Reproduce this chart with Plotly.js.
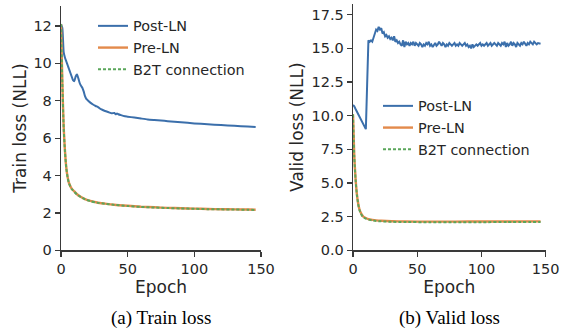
<!DOCTYPE html>
<html>
<head>
<meta charset="utf-8">
<script src="https://cdn.plot.ly/plotly-3.0.1.min.js"></script>
<style>html,body{margin:0;padding:0;background:#fff;}#chart{width:567px;height:331px;}</style>
</head>
<body>
<div id="chart"></div>
<script>
// ---------- Data ----------
// (a) Train loss
const trainPostEpochs = [0,1,2,3,4,5,6,7,8,9,10,11,12,13,14,15,16,17,18,19,20,21,22,24,26,28,30,33,36,38,40,41,42,43,45,48,50,55,60,65,70,75,80,90,100,110,120,130,140,146];
const trainPost = [12.1,11.9,10.6,10.3,10.1,9.9,9.7,9.5,9.3,9.1,9.05,9.3,9.4,9.2,8.95,8.8,8.7,8.5,8.25,8.1,8.03,7.96,7.9,7.8,7.72,7.65,7.55,7.45,7.38,7.33,7.35,7.28,7.32,7.28,7.23,7.17,7.15,7.1,7.05,7.0,6.97,6.94,6.91,6.85,6.79,6.74,6.7,6.66,6.62,6.6];
const trainPreEpochs = [0,1,2,3,4,5,6,8,10,12,15,18,22,27,33,40,50,60,70,80,90,100,110,120,130,140,146];
const trainPre = [12.1,9.0,6.6,5.3,4.4,3.9,3.6,3.3,3.15,3.0,2.85,2.74,2.64,2.56,2.5,2.44,2.38,2.33,2.3,2.27,2.25,2.23,2.21,2.2,2.19,2.18,2.17];
const trainB2T = [12.1,8.95,6.55,5.25,4.38,3.88,3.58,3.28,3.13,2.99,2.84,2.73,2.63,2.55,2.49,2.43,2.37,2.32,2.29,2.26,2.24,2.22,2.2,2.19,2.18,2.17,2.16];

// (b) Valid loss
const validPost = [10.8,10.7,10.5,10.3,10.1,9.9,9.7,9.5,9.3,9.1,9.0,12.3,15.6,15.5,15.6,15.5,15.8,16.1,16.4,16.3,16.6,16.4,16.5,16.1,16.2,15.9,16.0,15.8,
15.9,15.7,15.8,15.6,15.9,15.5,15.6,15.4,15.5,15.3,15.2,15.6,15.1,15.5,15.3,15.4,15.2,15.4,15.3,15.5,15.2,15.4,
15.3,15.2,15.4,15.3,15.1,15.3,15.2,15.4,15.3,15.5,15.2,15.3,15.1,15.3,15.4,15.2,15.3,15.5,15.3,15.2,
15.4,15.3,15.1,15.3,15.2,15.4,15.3,15.2,15.3,15.4,15.2,15.3,15.2,15.4,15.3,15.2,15.3,15.4,15.2,15.3,
15.1,15.2,15.0,15.3,15.1,15.2,15.3,15.2,15.3,15.4,15.2,15.3,15.2,15.3,15.4,15.2,15.3,15.4,15.2,15.3,
15.4,15.3,15.2,15.4,15.3,15.2,15.4,15.3,15.5,15.1,15.4,15.2,15.3,15.5,15.2,15.4,15.3,15.1,15.4,15.3,
15.2,15.4,15.3,15.5,15.3,15.2,15.4,15.3,15.5,15.4,15.3,15.5,15.4,15.3,15.4,15.4,15.35];
const validPreEpochs = [0,1,2,3,4,5,6,7,8,10,12,15,18,22,30,40,60,80,100,120,146];
const validPre = [10.1,7.0,5.3,4.2,3.5,3.05,2.8,2.62,2.5,2.4,2.32,2.26,2.22,2.19,2.16,2.14,2.13,2.13,2.14,2.14,2.15];
const validB2T = [10.1,6.95,5.25,4.15,3.45,3.0,2.76,2.58,2.46,2.36,2.28,2.22,2.18,2.15,2.12,2.1,2.09,2.09,2.09,2.1,2.1];

const seriesNames = ['Post-LN','Pre-LN','B2T connection'];
const xTicks = [0,50,100,150];
const trainYTicks = [0,2,4,6,8,10,12];
const validYTicks = [0,2.5,5,7.5,10,12.5,15,17.5];
const captions = ['(a) Train loss','(b) Valid loss'];

// ---------- Styling ----------
const BLUE = '#3b6fab', ORANGE = '#e38a4b', GREEN = '#5aa65a';
const sans = 'DejaVu Sans';
const txt = '#262626';

const traces = [
  {x: trainPostEpochs, y: trainPost, name: seriesNames[0], mode:'lines', line:{color:BLUE, width:2, shape:'spline', smoothing:0.5}, xaxis:'x', yaxis:'y', legend:'legend', legendgroup:'a1'},
  {x: trainPreEpochs, y: trainPre, name: seriesNames[1], mode:'lines', line:{color:ORANGE, width:2.4, shape:'spline', smoothing:0.6}, xaxis:'x', yaxis:'y', legend:'legend', legendgroup:'a2'},
  {x: trainPreEpochs, y: trainB2T, name: seriesNames[2], mode:'lines', line:{color:GREEN, width:2, dash:'3px,2px', shape:'spline', smoothing:0.6}, xaxis:'x', yaxis:'y', legend:'legend', legendgroup:'a3'},
  {x0: 0, dx: 1, y: validPost, name: seriesNames[0], mode:'lines', line:{color:BLUE, width:2}, xaxis:'x2', yaxis:'y2', legend:'legend2', legendgroup:'b1'},
  {x: validPreEpochs, y: validPre, name: seriesNames[1], mode:'lines', line:{color:ORANGE, width:2.4, shape:'spline', smoothing:0.6}, xaxis:'x2', yaxis:'y2', legend:'legend2', legendgroup:'b2'},
  {x: validPreEpochs, y: validB2T, name: seriesNames[2], mode:'lines', line:{color:GREEN, width:2, dash:'3px,2px', shape:'spline', smoothing:0.6}, xaxis:'x2', yaxis:'y2', legend:'legend2', legendgroup:'b3'}
];

const axisCommon = {
  showgrid:false, zeroline:false, showline:true, linecolor:'#3a3a3a', linewidth:1.25,
  ticks:'outside', ticklen:5, tickwidth:1.25, tickcolor:'#3a3a3a',
  tickfont:{family:sans, size:14.5, color:txt}, automargin:false, fixedrange:true
};

const legendCommon = {
  font:{family:sans, size:14.4, color:txt}, bgcolor:'rgba(0,0,0,0)', borderwidth:0,
  xanchor:'left', yanchor:'top', itemwidth:30, tracegroupgap:0, traceorder:'grouped'
};

const titleFont = {family:sans, size:17, color:txt};

const layout = {
  width:567, height:331,
  margin:{l:0, r:0, t:0, b:0},
  paper_bgcolor:'#fff', plot_bgcolor:'#fff',
  showlegend:true,
  xaxis: Object.assign({}, axisCommon, {domain:[61/567, 261/567], range:[0,150], tickvals:xTicks, anchor:'y',
    title:{text:'Epoch', font:titleFont, standoff:0}}),
  yaxis: Object.assign({}, axisCommon, {domain:[1-250.3/331, 1-6/331], range:[0,13.07], tickvals:trainYTicks, anchor:'x',
    title:{text:'Train loss (NLL)', font:titleFont, standoff:2}}),
  xaxis2: Object.assign({}, axisCommon, {domain:[353/567, 545.7/567], range:[0,150], tickvals:xTicks, anchor:'y2',
    title:{text:'Epoch', font:titleFont, standoff:0}}),
  yaxis2: Object.assign({}, axisCommon, {domain:[1-250.3/331, 1-4/331], range:[0,18.3], tickvals:validYTicks, tickformat:'.1f', anchor:'x2',
    title:{text:'Valid loss (NLL)', font:titleFont, standoff:3}}),
  legend: Object.assign({}, legendCommon, {x:93/567, y:1-10/331}),
  legend2: Object.assign({}, legendCommon, {x:378/567, y:1-90/331}),
  annotations: [
    {text:captions[0], x:161/567, y:1-318/331, xref:'paper', yref:'paper', xanchor:'center', yanchor:'middle', showarrow:false,
     font:{family:'Liberation Serif, Times New Roman, serif', size:19, color:'#000'}},
    {text:captions[1], x:449/567, y:1-318/331, xref:'paper', yref:'paper', xanchor:'center', yanchor:'middle', showarrow:false,
     font:{family:'Liberation Serif, Times New Roman, serif', size:19, color:'#000'}}
  ]
};

Plotly.newPlot('chart', traces, layout, {staticPlot:true, displayModeBar:false});
</script>
</body>
</html>
